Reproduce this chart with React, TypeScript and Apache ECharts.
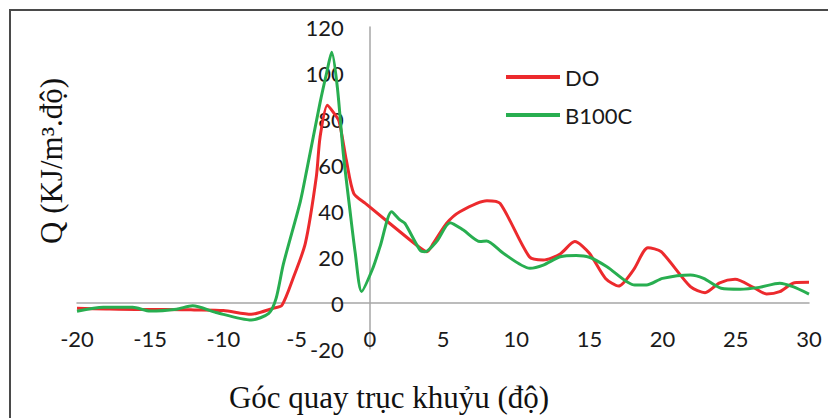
import React, { useEffect, useRef } from "react";
import * as echarts from "echarts";

const doAngles = [-20, -18, -16, -14, -12, -10, -8.1, -6.6, -6.0, -5.2, -4.4, -3.65, -3.4, -2.9, -2.5, -2.1, -1.6, -1.1, -0.3, 2.75, 3.65, 3.9, 4.35, 5.25, 6.15, 8.0, 8.9, 10.9, 11.85, 13.0, 14.0, 15.0, 16.1, 17.0, 18.0, 19.0, 19.9, 21.9, 22.9, 23.9, 24.95, 26.2, 27.1, 28.0, 29.0, 30.0];
const doValues = [-2.3, -2.6, -2.8, -2.8, -3.0, -3.3, -4.9, -2.3, -1.0, 11.4, 26, 55, 72, 86, 83, 79, 62, 47.7, 43.3, 27.4, 23, 22.3, 26, 34.7, 39.7, 44.5, 43.3, 20.1, 18.7, 21.3, 26.7, 21.6, 10.7, 7.4, 14.3, 24, 22.3, 7.1, 4.5, 8.8, 10.3, 6.8, 3.9, 4.9, 8.8, 9.0];

const b100cAngles = [-20, -18.2, -16.2, -15, -13.2, -12.1, -10.5, -8.1, -6.9, -6.4, -5.9, -4.75, -4.3, -3.4, -2.95, -2.6, -2.22, -1.81, -1.35, -1.0, -0.56, 0.2, 0.7, 1.49, 2.06, 2.4, 3.43, 3.77, 4.56, 5.48, 6.39, 7.53, 7.98, 9.12, 10.94, 11.85, 13.0, 14.1, 15.0, 16.2, 18.1, 18.9, 20.0, 21.9, 22.8, 24.0, 25.3, 26.6, 28.0, 28.9, 30.0];
const b100cValues = [-3.6, -1.9, -1.9, -3.5, -2.7, -1.2, -4.1, -7.4, -4.5, 2, 17, 44, 58, 87, 100, 109, 94, 65, 40, 22, 5, 15, 24.5, 39.7, 36.1, 34.6, 23, 22.3, 26.7, 34.9, 31.7, 26.7, 27, 21.6, 15.1, 16.5, 20.1, 20.7, 19.9, 15.8, 7.8, 7.8, 10.7, 12.2, 10.7, 6.4, 6.0, 6.8, 8.6, 7.1, 3.9];

const seriesNames = ["DO", "B100C"];
const xTitle = "Góc quay trục khuỷu (độ)";
const yTitle = "Q (KJ/m³.độ)";

const X_MIN = -20, X_MAX = 30, Y_MIN = -20, Y_MAX = 120;
const GRID = { left: 77, right: 19, top: 27, bottom: 69 };
const W = 828, H = 418;

const RED = "#EC2A2D";
const GREEN = "#28AE50";
const TICK_FONT = "Lato, 'Open Sans', sans-serif";
const SERIF = "'Liberation Serif', 'DejaVu Serif', serif";

export default function App() {
  const ref = useRef<HTMLDivElement>(null);
  useEffect(() => {
    document.body.style.margin = "0";
    if (!ref.current) return;
    const chart = echarts.init(ref.current, null, { renderer: "svg" });
    const pair = (xs: number[], ys: number[]) => xs.map((x, i) => [x, ys[i]]);
    const gw = W - GRID.left - GRID.right;
    const gh = H - GRID.top - GRID.bottom;
    // shift axes so they cross at the origin (labels follow the line)
    const yAxisOffset = -((0 - X_MIN) / (X_MAX - X_MIN)) * gw;
    const xAxisOffset = -((0 - Y_MIN) / (Y_MAX - Y_MIN)) * gh;
    chart.setOption({
      animation: false,
      backgroundColor: "#ffffff",
      grid: { ...GRID, containLabel: false },
      xAxis: {
        type: "value",
        min: X_MIN,
        max: X_MAX,
        interval: 5,
        offset: xAxisOffset,
        axisLine: { onZero: false, lineStyle: { color: "#a6a6a6", width: 1.5 } },
        axisTick: { show: false },
        splitLine: { show: false },
        axisLabel: { margin: 24, color: "#1a1a1a", fontSize: 22, fontFamily: TICK_FONT },
      },
      yAxis: {
        type: "value",
        min: Y_MIN,
        max: Y_MAX,
        interval: 20,
        offset: yAxisOffset,
        axisLine: { show: true, onZero: false, lineStyle: { color: "#a6a6a6", width: 1.5 } },
        axisTick: { show: false },
        splitLine: { show: false },
        axisLabel: { margin: 26, color: "#1a1a1a", fontSize: 22, fontFamily: TICK_FONT },
      },
      legend: {
        orient: "vertical",
        left: 501,
        top: 61,
        itemGap: 16,
        itemWidth: 54,
        itemHeight: 4,
        icon: "rect",
        data: seriesNames,
        textStyle: { color: "#1a1a1a", fontSize: 22, fontFamily: TICK_FONT },
      },
      series: [
        {
          name: seriesNames[0],
          type: "line",
          data: pair(doAngles, doValues),
          smooth: 0.25,
          symbol: "none",
          lineStyle: { color: RED, width: 3 },
          itemStyle: { color: RED },
          z: 3,
        },
        {
          name: seriesNames[1],
          type: "line",
          data: pair(b100cAngles, b100cValues),
          smooth: 0.25,
          symbol: "none",
          lineStyle: { color: GREEN, width: 3 },
          itemStyle: { color: GREEN },
          z: 4,
        },
      ],
      graphic: [
        {
          type: "rect",
          shape: { x: 10, y: 10, width: 830, height: 430 },
          style: { fill: "none", stroke: "#4a4a4a", lineWidth: 2 },
          silent: true,
        },
        {
          type: "text",
          x: 51,
          y: 161,
          rotation: Math.PI / 2,
          style: {
            text: yTitle,
            fill: "#111",
            font: `31px ${SERIF}`,
            align: "center",
            verticalAlign: "middle",
          },
        },
        {
          type: "text",
          x: 389,
          y: 397,
          style: {
            text: xTitle,
            fill: "#111",
            font: `31px ${SERIF}`,
            align: "center",
            verticalAlign: "middle",
          },
        },
      ],
    });
    return () => chart.dispose();
  }, []);
  return (
    <div
      ref={ref}
      style={{ position: "absolute", left: 0, top: 0, width: W, height: H }}
    />
  );
}
